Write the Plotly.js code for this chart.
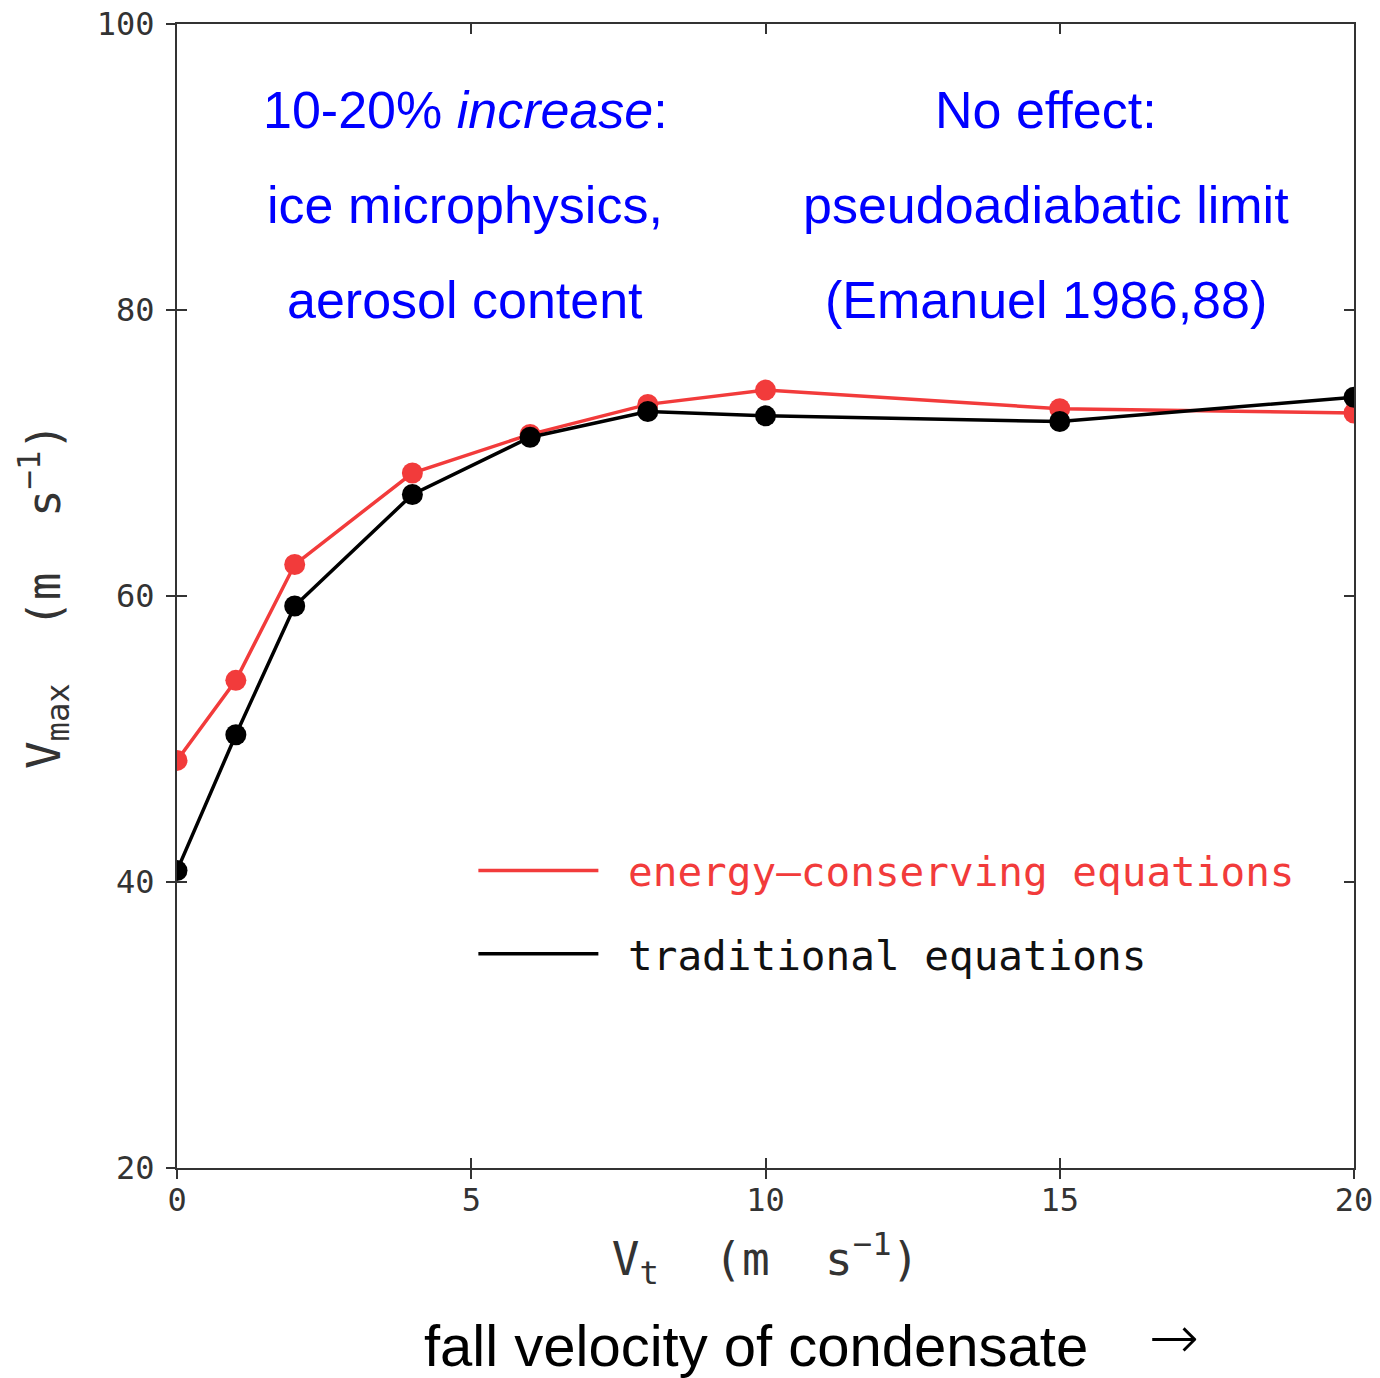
<!DOCTYPE html>
<html>
<head>
<meta charset="utf-8">
<script src="https://cdn.plot.ly/plotly-3.0.1.min.js"></script>
<style>
  html, body { margin: 0; padding: 0; background: #fff; }
  #chart { width: 1380px; height: 1378px; }
</style>
</head>
<body>
<div id="chart"></div>
<script>
// Condensate fall speed (m/s) and the resulting maximum wind speed (m/s)
const fallSpeed = [0, 1, 2, 4, 6, 8, 10, 15, 20];
const vmaxEnergyConserving = [48.5, 54.1, 62.2, 68.6, 71.3, 73.4, 74.4, 73.1, 72.8];
const vmaxTraditional = [40.8, 50.3, 59.3, 67.1, 71.1, 72.9, 72.6, 72.2, 73.9];

const seriesNames = ['energy\u2014conserving equations', 'traditional equations'];
const xTickValues = [0, 5, 10, 15, 20];
const yTickValues = [20, 40, 60, 80, 100];

const leftNote = ['10-20% <i>increase</i>:', 'ice microphysics,', 'aerosol content'];
const rightNote = ['No effect:', 'pseudoadiabatic limit', '(Emanuel 1986,88)'];
const bottomNote = 'fall velocity of condensate';

const RED = '#f23b3b';
const INK = '#333333';
const MONO = 'DejaVu Sans Mono, monospace';
const SANS = 'Liberation Sans, Arial, sans-serif';
const NB = '\u00a0';

const series = [
  { y: vmaxEnergyConserving, color: RED, text: RED, name: seriesNames[0] },
  { y: vmaxTraditional, color: '#000000', text: '#111111', name: seriesNames[1] }
];

const traces = [];
series.forEach((s, i) => {
  // connecting line (shown in the legend)
  traces.push({
    type: 'scatter', mode: 'lines', x: fallSpeed, y: s.y,
    line: { color: s.color, width: 3.5 },
    name: '<span style="color:' + s.text + '">' + NB + s.name + '</span>',
    legendgroup: 'g' + i, showlegend: true, hoverinfo: 'skip'
  });
  // filled dots at each simulation
  traces.push({
    type: 'scatter', mode: 'markers', x: fallSpeed, y: s.y,
    marker: { color: s.color, size: 21, symbol: 'circle', line: { width: 0 } },
    showlegend: false, legendgroup: 'g' + i
  });
});
// empty carrier trace for the outward tick axes
traces.push({ type: 'scatter', mode: 'none', x: [0], y: [20], xaxis: 'x2', yaxis: 'y2', showlegend: false, hoverinfo: 'skip' });

const axisCommon = {
  showgrid: false, zeroline: false, tickwidth: 2, tickcolor: INK, ticklen: 10
};

const annotations = [];
const rowY = [0.9248, 0.8418, 0.7587];
leftNote.forEach((t, i) => annotations.push({
  xref: 'paper', yref: 'paper', x: 0.2447, y: rowY[i], text: t, showarrow: false,
  xanchor: 'center', yanchor: 'middle', font: { family: SANS, size: 52, color: '#0000ff' }
}));
rightNote.forEach((t, i) => annotations.push({
  xref: 'paper', yref: 'paper', x: 0.7383, y: rowY[i], text: t, showarrow: false,
  xanchor: 'center', yanchor: 'middle', font: { family: SANS, size: 52, color: '#0000ff' }
}));
annotations.push({
  xref: 'paper', yref: 'paper', x: 0.2085, y: -0.155, text: bottomNote, showarrow: false,
  xanchor: 'left', yanchor: 'middle', font: { family: SANS, size: 58, color: '#000' }
});
annotations.push({
  xref: 'paper', yref: 'paper', x: 0.8470, y: -0.148, text: '\u2192', showarrow: false,
  xanchor: 'center', yanchor: 'middle', font: { family: 'DejaVu Sans, sans-serif', size: 60, weight: 300, color: '#000' }
});

const layout = {
  width: 1380, height: 1378,
  margin: { l: 177, r: 26, t: 24, b: 210 },
  paper_bgcolor: '#fff', plot_bgcolor: '#fff',
  showlegend: true,
  legend: {
    x: 0.2518, y: 0.2235, xanchor: 'left', yanchor: 'middle',
    bgcolor: 'rgba(0,0,0,0)', borderwidth: 0,
    itemwidth: 120, tracegroupgap: 27,
    font: { family: MONO, size: 41, color: INK }
  },
  xaxis: Object.assign({}, axisCommon, {
    range: [0, 20], tickvals: xTickValues, ticktext: xTickValues.map(String),
    ticks: 'inside', showline: true, linecolor: INK, linewidth: 2, mirror: 'ticks',
    tickfont: { family: MONO, size: 32, color: INK }, ticklabelstandoff: 3,
    title: { text: 'V<sub>t</sub>' + NB + NB + '(m' + NB + NB + 's<sup>\u22121</sup>)', font: { family: MONO, size: 46, color: INK }, standoff: 24 }
  }),
  yaxis: Object.assign({}, axisCommon, {
    range: [20, 100], tickvals: yTickValues, ticktext: yTickValues.map(String),
    ticks: 'inside', showline: true, linecolor: INK, linewidth: 2, mirror: 'ticks',
    tickfont: { family: MONO, size: 32, color: INK }, ticklabelstandoff: 14,
    title: { text: 'V<sub>max</sub>' + NB + NB + '(m' + NB + NB + 's<sup>\u22121</sup>)', font: { family: MONO, size: 46, color: INK }, standoff: 22 }
  }),
  xaxis2: Object.assign({}, axisCommon, {
    overlaying: 'x', anchor: 'y2', side: 'bottom', range: [0, 20], tickvals: xTickValues,
    ticks: 'outside', showticklabels: false, showline: false
  }),
  yaxis2: Object.assign({}, axisCommon, {
    overlaying: 'y', anchor: 'x2', side: 'left', range: [20, 100], tickvals: yTickValues,
    ticks: 'outside', showticklabels: false, showline: false
  }),
  annotations: annotations
};

Plotly.newPlot('chart', traces, layout, { displayModeBar: false, staticPlot: true });
</script>
</body>
</html>
